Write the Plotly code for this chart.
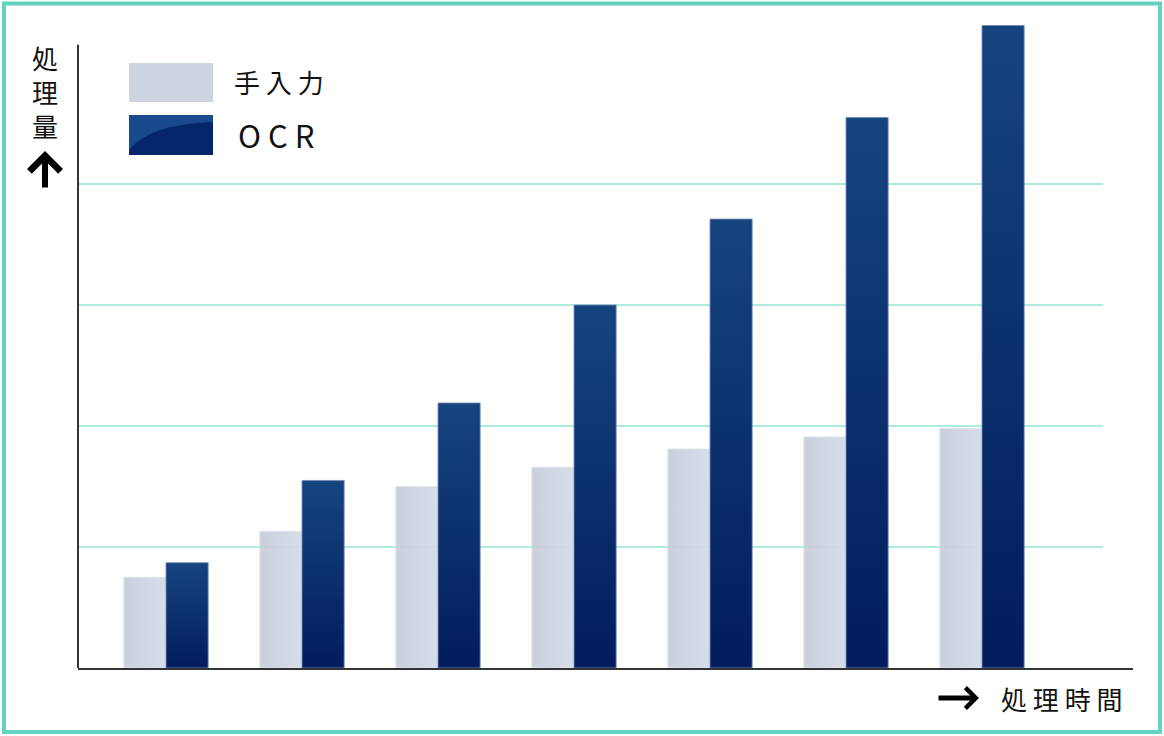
#!/usr/bin/env python3
"""手入力 vs OCR の処理量比較グラフ — グラデーション付き棒、枠線つき。"""

import plotly.graph_objects as go

# 処理時間の区切り（目盛りラベルは表示しない）
periods = ['1', '2', '3', '4', '5', '6', '7']
manual = [75, 113, 150, 166, 181, 191, 198]   # 手入力
ocr = [87, 155, 219, 300, 371, 455, 531]      # OCR
grid_vals = [100, 200, 300, 400]
y_axis_top = 515                              # 縦軸の線の上端

W, H = 1164, 736
L, R, T, B = 78, 31, 14, 68
PX_PER_UNIT = 1.21      # 縦方向 1単位あたりの px
X_STEP = 136            # 区切り間の px
FIRST_OFFSET = 88       # 縦軸から最初の区切り中心まで
BAR_W = 0.31            # 棒 1本の幅（区切り単位）

FONT = 'Noto Sans CJK JP, Noto Sans, sans-serif'
BORDER = '#62d2c1'
GRID = '#aeeade'
AXIS = '#333333'

plot_w = W - L - R
plot_h = H - T - B


def px2x(px):
    return (px - L) / plot_w


def py2y(py):
    return (H - B - py) / plot_h


fig = go.Figure()

# 手入力 — 横方向のうっすらしたグラデーション
for i, v in enumerate(manual):
    fig.add_trace(go.Scatter(
        x=[i - BAR_W, i - BAR_W, i, i, i - BAR_W],
        y=[0, v, v, 0, 0],
        mode='lines', fill='toself',
        line=dict(width=1, color='rgba(222,228,236,0.9)'),
        fillgradient=dict(type='horizontal',
                          colorscale=[[0, 'rgba(197,203,216,0.92)'],
                                      [1, 'rgba(211,219,231,0.92)']]),
        name='手入力', showlegend=False, hoverinfo='skip',
    ))

# OCR — 縦方向のグラデーション（下が濃紺）
for i, v in enumerate(ocr):
    fig.add_trace(go.Scatter(
        x=[i, i, i + BAR_W, i + BAR_W, i],
        y=[0, v, v, 0, 0],
        mode='lines', fill='toself',
        line=dict(width=1, color='rgba(115,140,182,0.85)'),
        fillgradient=dict(type='vertical',
                          colorscale=[[0, '#021c5d'], [1, '#16447f']]),
        name='OCR', showlegend=False, hoverinfo='skip',
    ))

shapes = []
for g in grid_vals:
    shapes.append(dict(type='line', layer='below', xref='paper', yref='y',
                       x0=0, x1=px2x(1103), y0=g, y1=g,
                       line=dict(color=GRID, width=2)))

# 縦軸の線
shapes.append(dict(type='line', xref='paper', yref='y', x0=0, x1=0,
                   y0=0, y1=y_axis_top, line=dict(color=AXIS, width=2)))

# 凡例の色見本
shapes.append(dict(type='rect', xref='paper', yref='paper',
                   x0=px2x(129), x1=px2x(213), y0=py2y(102), y1=py2y(63),
                   fillcolor='#cdd3df', line=dict(width=0)))
shapes.append(dict(type='rect', xref='paper', yref='paper',
                   x0=px2x(129), x1=px2x(213), y0=py2y(155), y1=py2y(115),
                   fillcolor='#05266b', line=dict(width=0)))
shapes.append(dict(
    type='path', xref='paper', yref='paper', fillcolor='#1a4a8e', line=dict(width=0),
    path=(f'M {px2x(129)},{py2y(115)} L {px2x(213)},{py2y(115)} '
          f'L {px2x(213)},{py2y(122)} '
          f'Q {px2x(150)},{py2y(124)} {px2x(129)},{py2y(150)} Z'),
))

# 外枠
shapes.append(dict(type='rect', xref='paper', yref='paper',
                   x0=px2x(4), x1=px2x(1160), y0=py2y(732), y1=py2y(3.5),
                   line=dict(color=BORDER, width=4)))

annotations = [
    dict(text='処<br>理<br>量', x=px2x(45), y=py2y(91), xref='paper', yref='paper',
         xanchor='center', yanchor='middle', showarrow=False,
         font=dict(family=FONT, size=26, color='#111111')),
    dict(text='', x=px2x(45), y=py2y(151), xref='paper', yref='paper',
         ax=0, ay=38, showarrow=True, arrowhead=4, arrowwidth=6, arrowsize=1,
         arrowcolor='#000000'),
    dict(text='', x=px2x(979), y=py2y(698), xref='paper', yref='paper',
         ax=-42, ay=0, showarrow=True, arrowhead=4, arrowwidth=5, arrowsize=0.8,
         arrowcolor='#000000'),
    dict(text='処 理 時 間', x=px2x(1061), y=py2y(699), xref='paper', yref='paper',
         xanchor='center', yanchor='middle', showarrow=False,
         font=dict(family=FONT, size=26, color='#111111')),
    dict(text='手 入 力', x=px2x(232), y=py2y(81), xref='paper', yref='paper',
         xanchor='left', yanchor='middle', showarrow=False,
         font=dict(family=FONT, size=26, color='#111111')),
    dict(text='O C R', x=px2x(236), y=py2y(134), xref='paper', yref='paper',
         xanchor='left', yanchor='middle', showarrow=False,
         font=dict(family=FONT, size=31, color='#111111')),
]

x0 = -FIRST_OFFSET / X_STEP
fig.update_layout(
    width=W, height=H,
    margin=dict(l=L, r=R, t=T, b=B, pad=0),
    paper_bgcolor='white', plot_bgcolor='white',
    showlegend=False,
    xaxis=dict(range=[x0, x0 + plot_w / X_STEP], showgrid=False, zeroline=False,
               showticklabels=False, ticks='', showline=True,
               linecolor=AXIS, linewidth=2, fixedrange=True),
    yaxis=dict(range=[0, plot_h / PX_PER_UNIT], showgrid=False, zeroline=False,
               showticklabels=False, ticks='', showline=False, fixedrange=True),
    shapes=shapes,
    annotations=annotations,
)

# ページ既定の余白 8px を消して 1164x736 にぴったり収める
fig.write_html('out.html',
               config={'displayModeBar': False},
               post_script="document.body.style.margin='0';"
                           "document.body.style.overflow='hidden';")
